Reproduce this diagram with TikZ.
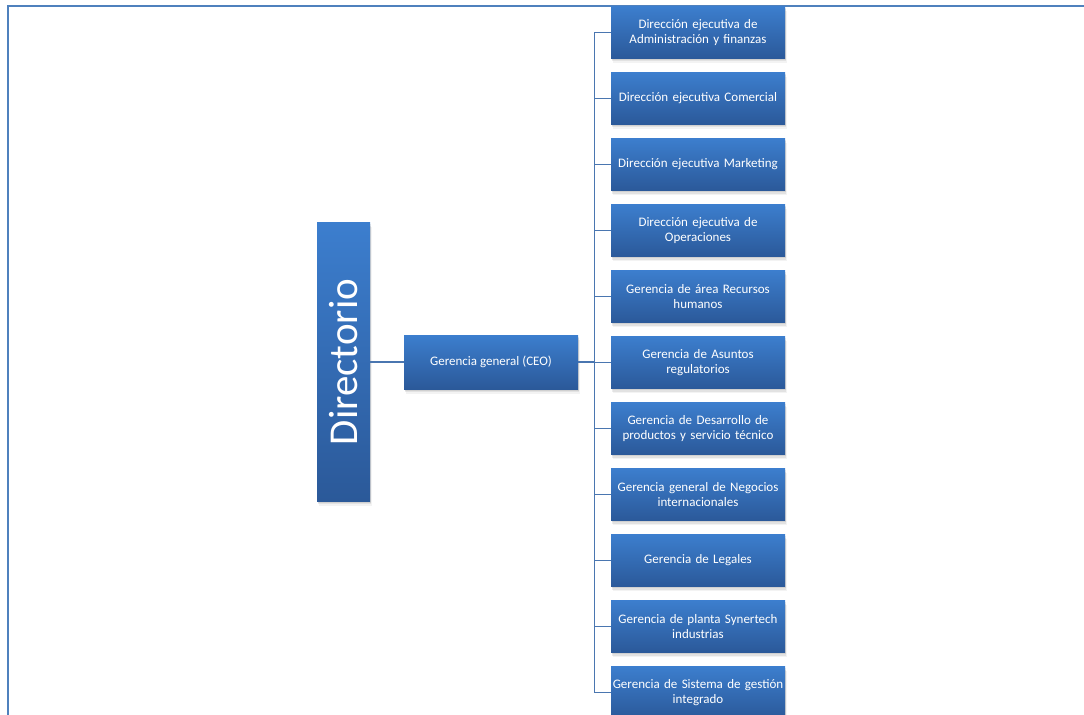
\documentclass[tikz,border=0pt]{standalone}
\usepackage{fontspec}
\setmainfont{Carlito}
\usetikzlibrary{shadows}

\definecolor{frameblue}{RGB}{79,129,189}
\definecolor{linkblue}{RGB}{74,118,176}
\definecolor{boxtop}{RGB}{60,126,206}
\definecolor{boxbottom}{RGB}{43,89,153}

\tikzset{
  orgbox/.style={
    rectangle, inner sep=2bp, align=center, text=white,
    top color=boxtop, bottom color=boxbottom, draw=none,
    drop shadow={shadow xshift=0.5bp, shadow yshift=-1.5bp, opacity=.14, fill=black!60},
    drop shadow={shadow xshift=1.2bp, shadow yshift=-3bp, opacity=.12, fill=black!60},
    drop shadow={shadow xshift=2bp, shadow yshift=-4.5bp, opacity=.08, fill=black!60},
    font=\fontsize{13bp}{14.6bp}\selectfont
  },
  unitbox/.style={orgbox, inner xsep=0bp, minimum width=174bp, minimum height=52bp,
    text width=174bp},
  link/.style={draw=linkblue, line width=1.4bp},
  frameline/.style={draw=frameblue, line width=2.4bp}
}

\begin{document}
\begin{tikzpicture}[x=1bp, y=-1bp]
  \useasboundingbox (0,0) rectangle (1084,715);

  % page frame
  \draw[frameline] (8,715) -- (8,6) -- (1084,6);

  % top of the chart
  \node[orgbox, minimum width=53bp, minimum height=278bp] (dir) at (343.5,362)
    {\rotatebox{90}{\fontsize{41bp}{41bp}\selectfont Directorio}};
  \node[orgbox, minimum width=174bp, minimum height=54bp] (ceo) at (491,362)
    {Gerencia general (CEO)};

  % direct reports
  \node[unitbox] (b1)  at (698,32.5)  {Dirección ejecutiva de\\Administración y finanzas};
  \node[unitbox] (b2)  at (698,98.5)  {Dirección ejecutiva Comercial};
  \node[unitbox] (b3)  at (698,164.5) {Dirección ejecutiva Marketing};
  \node[unitbox] (b4)  at (698,230.5) {Dirección ejecutiva de\\Operaciones};
  \node[unitbox] (b5)  at (698,296.5) {Gerencia de área Recursos\\humanos};
  \node[unitbox] (b6)  at (698,362.5) {Gerencia de Asuntos\\regulatorios};
  \node[unitbox] (b7)  at (698,428.5) {Gerencia de Desarrollo de\\productos y servicio técnico};
  \node[unitbox] (b8)  at (698,494.5) {Gerencia general de Negocios\\internacionales};
  \node[unitbox] (b9)  at (698,560.5) {Gerencia de Legales};
  \node[unitbox] (b10) at (698,626.5) {Gerencia de planta Synertech\\industrias};
  \node[unitbox] (b11) at (698,692.5) {Gerencia de Sistema de gestión\\integrado};

  % connectors
  \coordinate (trunk) at (594.5,362);
  \draw[link] (dir.east) -- (ceo.west);
  \draw[link] (ceo.east) -- (trunk);
  \draw[link] (trunk |- b1.west) -- (trunk |- b11.west);
  \foreach \b in {b1,b2,b3,b4,b5,b6,b7,b8,b9,b10,b11}
    \draw[link] (trunk |- \b.west) -- (\b.west);
\end{tikzpicture}
\end{document}
